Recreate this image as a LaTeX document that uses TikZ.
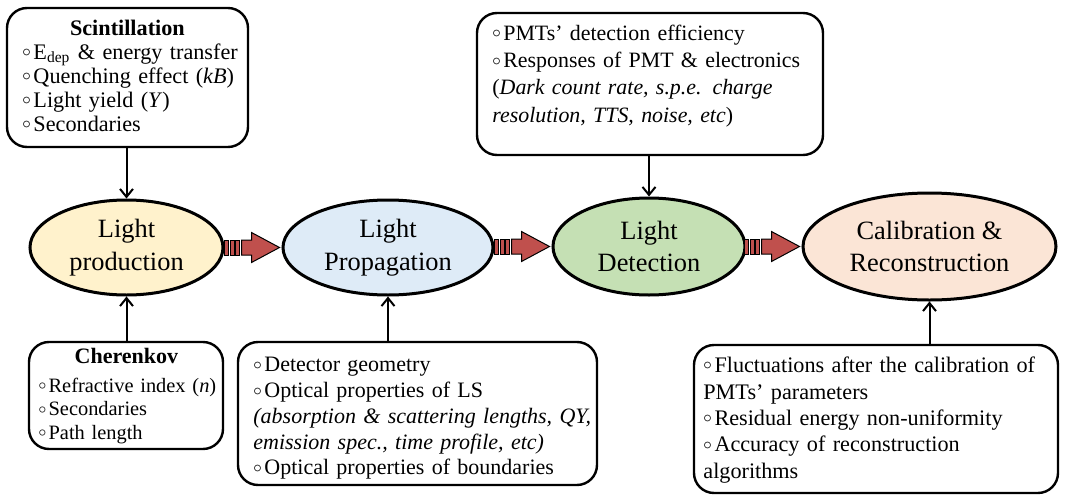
\documentclass[tikz,border=0pt]{standalone}
\usepackage{fontspec}
\setmainfont{Liberation Serif}
\usetikzlibrary{arrows.meta,calc,shapes.geometric}
\definecolor{cyel}{HTML}{FFF2CC}
\definecolor{cblu}{HTML}{DEEBF7}
\definecolor{cgrn}{HTML}{C5E0B4}
\definecolor{cpch}{HTML}{FBE5D6}
\definecolor{cred}{HTML}{C0504D}
\newcommand\bul{\makebox[0.5em][l]{\raisebox{0.12em}{$\scriptstyle\circ$}}}
\newcommand\hd[2]{\makebox[#1][c]{\bfseries #2}}
\begin{document}
\begin{tikzpicture}[x=0.5pt,y=-0.5pt,
  stage/.style={ellipse, draw, line width=1.5pt, inner sep=0pt, align=center,
    font=\fontsize{13.2}{16.3}\selectfont},
  infobox/.style={draw, rounded corners=10pt, line width=1.2pt, inner sep=0pt},
  infotext/.style={inner sep=0pt, anchor=west, align=left, text width=200pt},
  link/.style={line width=1pt, -{Straight Barb[length=4pt,width=6.5pt,line width=1pt]}},
  pics/flow/.style={code={
    \foreach \bx in {-55,-49.5,-44}
      \draw[fill=cred, line width=0.5pt] (\bx,-7.5) rectangle ++(4,15);
    \draw[fill=cred, line width=0.5pt] (-38,-7.5) -- (-28,-7.5) -- (-28,-15) -- (0,0)
      -- (-28,15) -- (-28,7.5) -- (-38,7.5) -- cycle;
  }}
]
\useasboundingbox (0,0) rectangle (1067,504);

% stages
\node[stage, fill=cyel, minimum width=96.5pt, minimum height=47.5pt] (e1) at (126.5,247.5) {Light\\production};
\node[stage, fill=cblu, minimum width=105pt, minimum height=47.5pt] (e2) at (388,247.5) {Light\\Propagation};
\node[stage, fill=cgrn, minimum width=96pt, minimum height=48.5pt] (e3) at (649,246.5) {Light\\Detection};
\node[stage, fill=cpch, minimum width=126.5pt, minimum height=53.5pt] (e4) at (929.5,246.5) {Calibration \&\\Reconstruction};

% boxes
\node[infobox, minimum width=120.5pt, minimum height=69.5pt] (scint) at (127.5,77.5) {};
\node[infobox, minimum width=97pt, minimum height=53.5pt] (cher) at (126,395.5) {};
\node[infobox, minimum width=173pt, minimum height=71pt] (pmt) at (650,84) {};
\node[infobox, minimum width=179.5pt, minimum height=71.5pt] (prop) at (417.5,413.5) {};
\node[infobox, minimum width=182pt, minimum height=74pt] (calib) at (876,419) {};

% box texts
\node[infotext, font=\fontsize{11.1}{12}\selectfont] (scintT) at (22,76)
  {\hd{105pt}{Scintillation}\\
   \bul E\textsubscript{dep} \& energy transfer\\
   \bul Quenching effect (\textit{kB})\\
   \bul Light yield (\textit{Y})\\
   \bul Secondaries};
\node[infotext, font=\fontsize{10.2}{11.75}\selectfont] (cherT) at (38,396)
  {{\fontsize{11}{12}\selectfont\hd{88pt}{Cherenkov}}\\[2.5pt]
   \bul Refractive index (\textit{n})\\
   \bul Secondaries\\
   \bul Path length};
\node[infotext, font=\fontsize{10.95}{13.6}\selectfont] (pmtT) at (492,76)
  {\bul PMTs' detection efficiency\\
   \bul Responses of PMT \& electronics\\
   (\textit{Dark count rate, s.p.e. charge}\\
   \textit{resolution, TTS, noise, etc})};
\node[infotext, font=\fontsize{11}{12.85}\selectfont] (propT) at (253,418.5)
  {\bul Detector geometry\\
   \bul Optical properties of LS\\
   \textit{(absorption \& scattering lengths, QY,}\\
   \textit{emission spec., time profile, etc)}\\
   \bul Optical properties of boundaries};
\node[infotext, font=\fontsize{11.1}{13.2}\selectfont] (calibT) at (703,420)
  {\bul Fluctuations after the calibration of\\
   PMTs' parameters\\
   \bul Residual energy non-uniformity\\
   \bul Accuracy of reconstruction\\
   algorithms};

% connectors
\draw[link] (scint.south -| e1.north) -- (e1.north);
\draw[link] (cher.north -| e1.south) -- (e1.south);
\draw[link] (prop.north -| e2.south) -- (e2.south);
\draw[link] (pmt.south -| e3.north) -- (e3.north);
\draw[link] (calib.north -| e4.south) -- (e4.south);

% flow arrows
\pic at ($(e2.west)+(-2,0)$) {flow};
\pic at ($(e3.west)+(-2,0)$) {flow};
\pic at ($(e4.west)+(-2,0)$) {flow};
\end{tikzpicture}
\end{document}
